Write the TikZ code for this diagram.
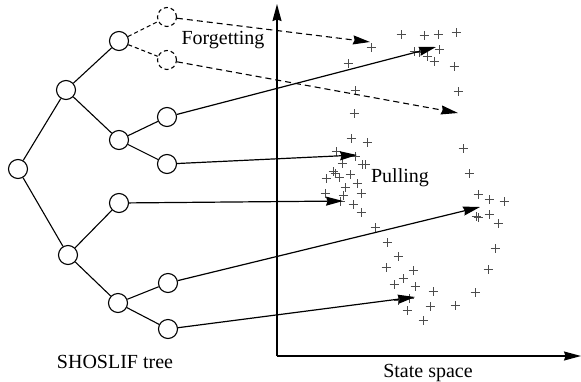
\documentclass[tikz,border=0pt]{standalone}
\usepackage{fontspec}
\setmainfont{Liberation Serif}
\usetikzlibrary{arrows.meta}

\tikzset{
  tn/.style={circle, draw, line width=1.1pt, minimum size=19pt, inner sep=0pt, fill=white},
  gone/.style={tn, dashed, dash pattern=on 4pt off 3pt},
  branch/.style={line width=1.1pt},
  faded/.style={line width=1.1pt, dash pattern=on 6pt off 4pt, -{Stealth[length=17pt,width=9pt,inset=1.5pt]}},
  mapto/.style={line width=1.2pt, -{Stealth[length=17pt,width=9pt,inset=1.5pt]}},
  axis/.style={line width=1.3pt, -{Stealth[length=17pt,width=9pt,inset=1.5pt]}},
  lbl/.style={font=\fontsize{20}{24}\selectfont, inner sep=0pt},
  sample/.pic={\draw[line width=0.9pt, black!70] (-4.5pt,0pt)--(4.5pt,0pt) (0pt,-4.5pt)--(0pt,4.5pt);}
}

\begin{document}
\begin{tikzpicture}[x=1pt, y=-1pt]
\useasboundingbox (0,0) rectangle (581,381);

% axes of the state space
\coordinate (O) at (277,356);
\coordinate (ytop) at (277,4);
\coordinate (xend) at (581,356);
\draw[axis] (O) -- (ytop);
\draw[axis] (O) -- (xend);

% sample points in the state space
\foreach \p in {(401,34),(424,35),(438,34),(456,32),(371,47),(414,51),(419,52),(427,56),(439,49),
               (434,61),(454,66),(348,63),(355,90),(458,91),(354,113),
               (351,138),(367,142),(336,151),(355,156),(342,163),(362,164),(365,164),(333,171),
               (335,173),(339,177),(326,178),(350,174),(345,187),(357,183),(361,193),(325,193),
               (343,195),(340,201),(353,204),(361,212),(375,227),
               (387,242),(398,256),(386,267),(413,270),(403,278),(394,284),(415,286),(433,291),
               (398,300),(409,298),(430,306),(407,310),(423,320),(455,305),(475,292),
               (463,148),(469,173),(478,194),(489,199),(504,201),(476,216),(478,217),(489,214),
               (498,223),(495,248),(488,269)}
  \pic at \p {sample};

% tree nodes
\node[tn] (r)   at (18,169) {};
\node[tn] (a)   at (66,90) {};
\node[tn] (b)   at (68,255) {};
\node[tn] (aa)  at (119,41) {};
\node[tn] (ab)  at (119,140) {};
\node[tn] (ba)  at (119,203) {};
\node[tn] (bb)  at (118,303) {};
\node[gone] (aa1) at (167,17) {};
\node[gone] (aa2) at (167,60) {};
\node[tn] (ab1) at (167,117) {};
\node[tn] (ab2) at (167,164) {};
\node[tn] (bb1) at (168,283) {};
\node[tn] (bb2) at (168,329) {};

% tree edges
\draw[branch] (r) -- (a);
\draw[branch] (r) -- (b);
\draw[branch] (a) -- (aa);
\draw[branch] (a) -- (ab);
\draw[branch] (b) -- (ba);
\draw[branch] (b) -- (bb);
\draw[branch, dash pattern=on 4pt off 3pt] (aa) -- (aa1);
\draw[branch, dash pattern=on 4pt off 3pt] (aa) -- (aa2);
\draw[branch] (ab) -- (ab1);
\draw[branch] (ab) -- (ab2);
\draw[branch] (bb) -- (bb1);
\draw[branch] (bb) -- (bb2);

% targets in the state space
\coordinate (t1) at (370,42);
\coordinate (t2) at (458,113);
\coordinate (t3) at (436,47);
\coordinate (t4) at (357,155);
\coordinate (t5) at (343,201);
\coordinate (t6) at (480,207);
\coordinate (t7) at (415,297);

% mappings
\draw[faded] (aa1) -- (t1);
\draw[faded] (aa2) -- (t2);
\draw[mapto] (ab1) -- (t3);
\draw[mapto] (ab2) -- (t4);
\draw[mapto] (ba) -- (t5);
\draw[mapto] (bb1) -- (t6);
\draw[mapto] (bb2) -- (t7);

% labels
\node[lbl] (forget) at (223,40) {Forgetting};
\node[lbl] (pull) at (400,178) {Pulling};
\node[lbl] (tree) at (115,362) {SHOSLIF tree};
\node[lbl] (space) at (428,373) {State space};
\end{tikzpicture}
\end{document}
